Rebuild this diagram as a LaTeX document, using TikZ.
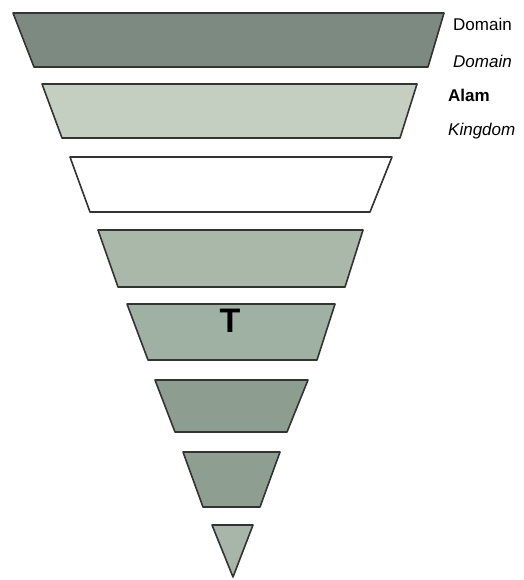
\documentclass[tikz,border=0pt]{standalone}
\usepackage{fontspec}
\setmainfont{Liberation Sans}
\begin{document}
\begin{tikzpicture}[x=1pt,y=-1pt,
  layer/.style={draw=black!80, line width=1.6pt, line join=round},
  lbl/.style={anchor=west, inner sep=0pt, font=\fontsize{17}{20}\selectfont}]
\definecolor{cA}{HTML}{7D8A82}
\definecolor{cB}{HTML}{C4CFC2}
\definecolor{cC}{HTML}{FFFFFF}
\definecolor{cD}{HTML}{A9B8A9}
\definecolor{cE}{HTML}{9FB1A2}
\definecolor{cF}{HTML}{8D9E91}
\definecolor{cG}{HTML}{8E9F92}
\definecolor{cH}{HTML}{A7B6A9}
\useasboundingbox (0,0) rectangle (523,580);
\fill[white] (0,0) rectangle (523,580);
\draw[layer, fill=cA] (13,13) -- (444,13) -- (428,67) -- (34,67) -- cycle;
\draw[layer, fill=cB] (42,84) -- (417,84) -- (400,138) -- (62,138) -- cycle;
\draw[layer, fill=cC] (70,157) -- (392,157) -- (370,212) -- (90,212) -- cycle;
\draw[layer, fill=cD] (98,230) -- (363,230) -- (345,287) -- (118,287) -- cycle;
\draw[layer, fill=cE] (127,304) -- (335,304) -- (317,360) -- (148,360) -- cycle;
\draw[layer, fill=cF] (155,380) -- (308,380) -- (287,432) -- (175,432) -- cycle;
\draw[layer, fill=cG] (183,452) -- (280,452) -- (260,507) -- (203,507) -- cycle;
\draw[layer, fill=cH] (212,525) -- (253,525) -- (233,577) -- cycle;
\node (t) at (230,321) {\fontsize{34}{36}\selectfont\bfseries T};
\node[lbl] (d1) at (453,24) {Domain};
\node[lbl] (d2) at (453,61) {\itshape Domain};
\node[lbl] (al) at (448,95) {\bfseries Alam};
\node[lbl] (kg) at (448,131) {\itshape Kingdom};
\end{tikzpicture}
\end{document}
